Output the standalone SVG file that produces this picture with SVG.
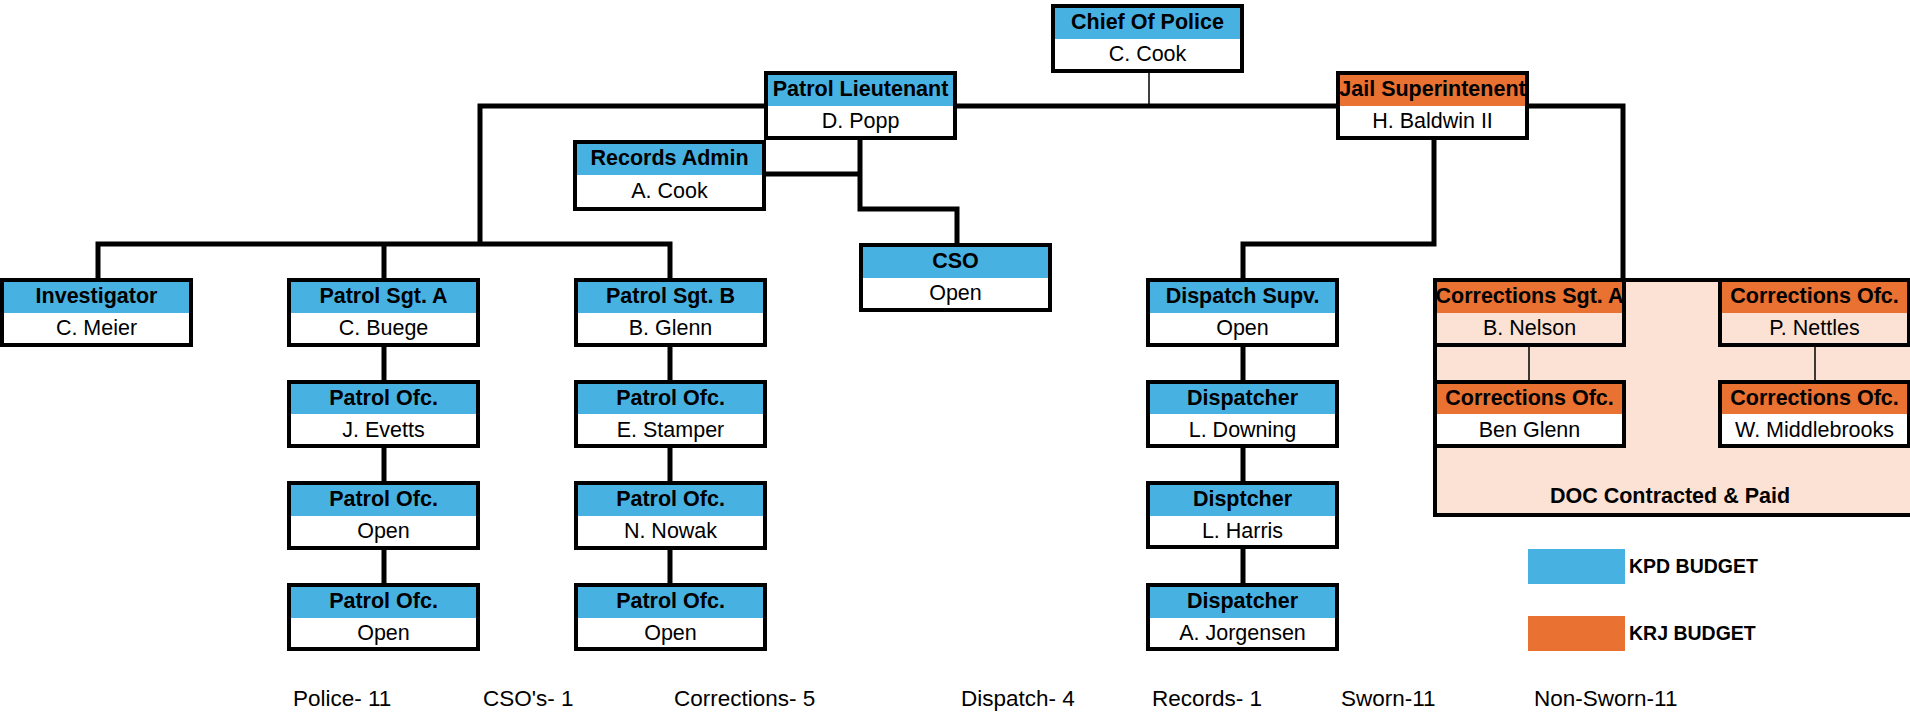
<svg xmlns="http://www.w3.org/2000/svg" width="1910" height="715" viewBox="0 0 1910 715">
<style>
.bx{stroke:#000;stroke-width:4;fill:#fff}
.pe{fill:#FBE2D5}
.hb{fill:#47B1E1}
.ho{fill:#E97132}
.t{font-family:"Liberation Sans",Arial,sans-serif;font-size:21.5px;text-anchor:middle;fill:#000}
.h{font-weight:bold}
.c{stroke:#000;stroke-width:5;fill:none}
.thin{stroke:#000;stroke-width:1.5;fill:none}
.leg{font-family:"Liberation Sans",Arial,sans-serif;font-size:19.5px;font-weight:bold;fill:#000}
.ft{font-family:"Liberation Sans",Arial,sans-serif;font-size:22.5px;fill:#000}
</style>
<rect width="1910" height="715" fill="#fff"/>
<g id="doc-region">
<rect x="1435" y="280" width="480" height="235" class="bx pe"/>
<text x="1670" y="503" class="t h">DOC Contracted &amp; Paid</text>
</g>
<g id="connectors">
<line x1="1149" y1="72" x2="1149" y2="106" stroke="#404040" stroke-width="2"/>
<path class="c" d="M480,244 V106 H1623 V278"/>
<path class="c" d="M98,278 V244 H670 V278 M384,244 V278"/>
<path class="c" d="M384,346 V585 M670,346 V585 M1243,346 V585"/>
<path class="c" d="M860,140 V209 H957 V245 M764,174 H860"/>
<path class="c" d="M1434,140 V244 H1243 V280"/>
<path class="thin" d="M1529,346 V382 M1815,346 V382"/>
</g>
<g id="chief"><rect x="1053" y="6" width="189" height="65" class="bx"/><rect x="1055" y="8" width="185" height="31" class="hb"/><text x="1147.5" y="29" class="t h">Chief Of Police</text><text x="1147.5" y="61" class="t">C. Cook</text></g>
<g id="lieutenant"><rect x="766" y="73" width="189" height="65" class="bx"/><rect x="768" y="75" width="185" height="31" class="hb"/><text x="860.5" y="96" class="t h">Patrol Lieutenant</text><text x="860.5" y="128" class="t">D. Popp</text></g>
<g id="jail"><rect x="1338" y="73" width="189" height="65" class="bx"/><rect x="1340" y="75" width="185" height="31" class="ho"/><text x="1432.5" y="96" class="t h">Jail Superintenent</text><text x="1432.5" y="128" class="t">H. Baldwin II</text></g>
<g id="records"><rect x="575" y="142" width="189" height="67" class="bx"/><rect x="577" y="144" width="185" height="31" class="hb"/><text x="669.5" y="165" class="t h">Records Admin</text><text x="669.5" y="198" class="t">A. Cook</text></g>
<g id="cso"><rect x="861" y="245" width="189" height="65" class="bx"/><rect x="863" y="247" width="185" height="31" class="hb"/><text x="955.5" y="268" class="t h">CSO</text><text x="955.5" y="300" class="t">Open</text></g>
<g id="investigator"><rect x="2" y="280" width="189" height="65" class="bx"/><rect x="4" y="282" width="185" height="31" class="hb"/><text x="96.5" y="303" class="t h">Investigator</text><text x="96.5" y="335" class="t">C. Meier</text></g>
<g id="sgt-a"><rect x="289" y="280" width="189" height="65" class="bx"/><rect x="291" y="282" width="185" height="31" class="hb"/><text x="383.5" y="303" class="t h">Patrol Sgt. A</text><text x="383.5" y="335" class="t">C. Buege</text></g>
<g id="sgt-b"><rect x="576" y="280" width="189" height="65" class="bx"/><rect x="578" y="282" width="185" height="31" class="hb"/><text x="670.5" y="303" class="t h">Patrol Sgt. B</text><text x="670.5" y="335" class="t">B. Glenn</text></g>
<g id="dispatch-supv"><rect x="1148" y="280" width="189" height="65" class="bx"/><rect x="1150" y="282" width="185" height="31" class="hb"/><text x="1242.5" y="303" class="t h">Dispatch Supv.</text><text x="1242.5" y="335" class="t">Open</text></g>
<g id="corr-sgt-a"><rect x="1435" y="280" width="189" height="65" class="bx pe"/><rect x="1437" y="282" width="185" height="31" class="ho"/><text x="1529.5" y="303" class="t h">Corrections Sgt. A</text><text x="1529.5" y="335" class="t">B. Nelson</text></g>
<g id="corr-ofc-nettles"><rect x="1720" y="280" width="189" height="65" class="bx pe"/><rect x="1722" y="282" width="185" height="31" class="ho"/><text x="1814.5" y="303" class="t h">Corrections Ofc.</text><text x="1814.5" y="335" class="t">P. Nettles</text></g>
<g id="patrol-a1"><rect x="289" y="382" width="189" height="64" class="bx"/><rect x="291" y="384" width="185" height="30" class="hb"/><text x="383.5" y="405" class="t h">Patrol Ofc.</text><text x="383.5" y="437" class="t">J. Evetts</text></g>
<g id="patrol-a2"><rect x="289" y="483" width="189" height="65" class="bx"/><rect x="291" y="485" width="185" height="31" class="hb"/><text x="383.5" y="506" class="t h">Patrol Ofc.</text><text x="383.5" y="538" class="t">Open</text></g>
<g id="patrol-a3"><rect x="289" y="585" width="189" height="64" class="bx"/><rect x="291" y="587" width="185" height="31" class="hb"/><text x="383.5" y="608" class="t h">Patrol Ofc.</text><text x="383.5" y="640" class="t">Open</text></g>
<g id="patrol-b1"><rect x="576" y="382" width="189" height="64" class="bx"/><rect x="578" y="384" width="185" height="30" class="hb"/><text x="670.5" y="405" class="t h">Patrol Ofc.</text><text x="670.5" y="437" class="t">E. Stamper</text></g>
<g id="patrol-b2"><rect x="576" y="483" width="189" height="65" class="bx"/><rect x="578" y="485" width="185" height="31" class="hb"/><text x="670.5" y="506" class="t h">Patrol Ofc.</text><text x="670.5" y="538" class="t">N. Nowak</text></g>
<g id="patrol-b3"><rect x="576" y="585" width="189" height="64" class="bx"/><rect x="578" y="587" width="185" height="31" class="hb"/><text x="670.5" y="608" class="t h">Patrol Ofc.</text><text x="670.5" y="640" class="t">Open</text></g>
<g id="dispatcher-1"><rect x="1148" y="382" width="189" height="64" class="bx"/><rect x="1150" y="384" width="185" height="30" class="hb"/><text x="1242.5" y="405" class="t h">Dispatcher</text><text x="1242.5" y="437" class="t">L. Downing</text></g>
<g id="dispatcher-2"><rect x="1148" y="483" width="189" height="64" class="bx"/><rect x="1150" y="485" width="185" height="31" class="hb"/><text x="1242.5" y="506" class="t h">Disptcher</text><text x="1242.5" y="538" class="t">L. Harris</text></g>
<g id="dispatcher-3"><rect x="1148" y="585" width="189" height="64" class="bx"/><rect x="1150" y="587" width="185" height="31" class="hb"/><text x="1242.5" y="608" class="t h">Dispatcher</text><text x="1242.5" y="640" class="t">A. Jorgensen</text></g>
<g id="corr-ofc-glenn"><rect x="1435" y="382" width="189" height="64" class="bx"/><rect x="1437" y="384" width="185" height="30" class="ho"/><text x="1529.5" y="405" class="t h">Corrections Ofc.</text><text x="1529.5" y="437" class="t">Ben Glenn</text></g>
<g id="corr-ofc-middlebrooks"><rect x="1720" y="382" width="189" height="64" class="bx"/><rect x="1722" y="384" width="185" height="30" class="ho"/><text x="1814.5" y="405" class="t h">Corrections Ofc.</text><text x="1814.5" y="437" class="t">W. Middlebrooks</text></g>
<g id="legend">
<rect x="1528" y="549" width="97" height="35" class="hb"/>
<text x="1629" y="573" class="leg">KPD BUDGET</text>
<rect x="1528" y="616" width="97" height="35" class="ho"/>
<text x="1629" y="640" class="leg">KRJ BUDGET</text>
</g>
<g id="totals">
<text x="293" y="706" class="ft">Police- 11</text>
<text x="483" y="706" class="ft">CSO's- 1</text>
<text x="674" y="706" class="ft">Corrections- 5</text>
<text x="961" y="706" class="ft">Dispatch- 4</text>
<text x="1152" y="706" class="ft">Records- 1</text>
<text x="1341" y="706" class="ft">Sworn-11</text>
<text x="1534" y="706" class="ft">Non-Sworn-11</text>
</g>
</svg>
